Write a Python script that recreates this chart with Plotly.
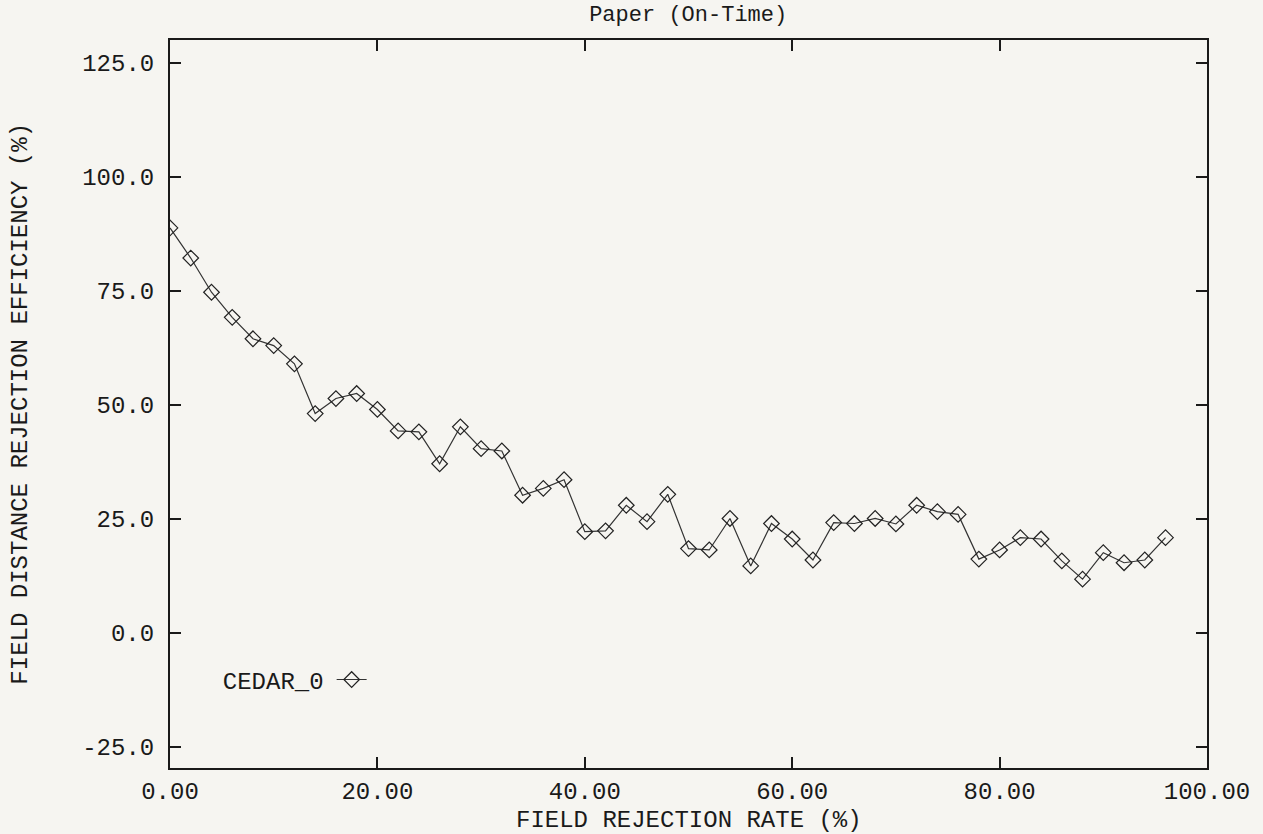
import plotly.graph_objects as go

# Field rejection rate (%) and the matching distance rejection efficiency (%)
rejection_rate = list(range(0, 98, 2))
efficiency = [
    88.8, 82.2, 74.7, 69.2, 64.5, 63.0, 59.0, 48.1, 51.4, 52.5,
    49.0, 44.3, 44.1, 37.1, 45.2, 40.4, 39.9, 30.2, 31.7, 33.6,
    22.2, 22.4, 28.0, 24.4, 30.4, 18.5, 18.2, 25.1, 14.7, 24.0,
    20.6, 16.0, 24.2, 24.0, 25.1, 23.9, 28.0, 26.6, 26.0, 16.2,
    18.2, 20.9, 20.6, 15.8, 11.8, 17.6, 15.4, 16.0, 20.9,
]
series_name = "CEDAR_0"

x_ticks = [0, 20, 40, 60, 80, 100]
x_tick_text = ["0.00", "20.00", "40.00", "60.00", "80.00", "100.00"]
y_ticks = [-25, 0, 25, 50, 75, 100, 125]
y_tick_text = ["-25.0", "0.0", "25.0", "50.0", "75.0", "100.0", "125.0"]
x_title = "FIELD REJECTION RATE (%)"
y_title = "FIELD DISTANCE REJECTION EFFICIENCY (%)"

FONT = "Liberation Mono, Courier New, monospace"
INK = "#1a1a1a"
BG = "#f6f5f1"

fig = go.Figure()
fig.add_trace(go.Scatter(
    x=rejection_rate,
    y=efficiency,
    mode="lines+markers",
    name="",
    line=dict(color="#333333", width=1.2),
    marker=dict(symbol="diamond-open", size=12, color="#222222",
                line=dict(width=1.2, color="#222222")),
    showlegend=True,
))

axis_common = dict(
    showgrid=False,
    zeroline=False,
    showline=True,
    linecolor=INK,
    linewidth=2,
    mirror="ticks",
    ticks="inside",
    ticklen=11,
    tickwidth=2,
    tickcolor=INK,
    automargin=False,
    tickfont=dict(family=FONT, size=24, color=INK),
)

fig.update_layout(
    width=1263,
    height=834,
    margin=dict(l=170, r=56, t=40, b=66),
    paper_bgcolor=BG,
    plot_bgcolor=BG,
    title=dict(text="Paper (On-Time)", x=0.5449, xanchor="center",
               y=0.993, yanchor="top",
               font=dict(family=FONT, size=22, color=INK)),
    xaxis=dict(
        range=[0, 100],
        tickvals=x_ticks,
        ticktext=x_tick_text,
        ticklabelstandoff=0,
        **axis_common,
    ),
    yaxis=dict(
        range=[-29.6, 130.0],
        tickvals=y_ticks,
        ticktext=y_tick_text,
        ticklabelstandoff=9,
        **axis_common,
    ),
    legend=dict(
        x=0.049, y=0.121, xanchor="left", yanchor="middle",
        bgcolor="rgba(0,0,0,0)",
        borderwidth=0,
        title=dict(text=series_name, side="left",
                   font=dict(family=FONT, size=24, color=INK)),
        font=dict(family=FONT, size=24, color=INK),
    ),
    annotations=[
        dict(text=x_title, xref="paper", yref="paper", x=0.5, y=-0.0715,
             xanchor="center", yanchor="middle", showarrow=False,
             font=dict(family=FONT, size=24, color=INK)),
        dict(text=y_title, xref="paper", yref="paper", x=-0.145, y=0.5,
             xanchor="center", yanchor="middle", textangle=-90,
             showarrow=False, font=dict(family=FONT, size=24, color=INK)),
    ],
)

fig.write_html("out.html")
